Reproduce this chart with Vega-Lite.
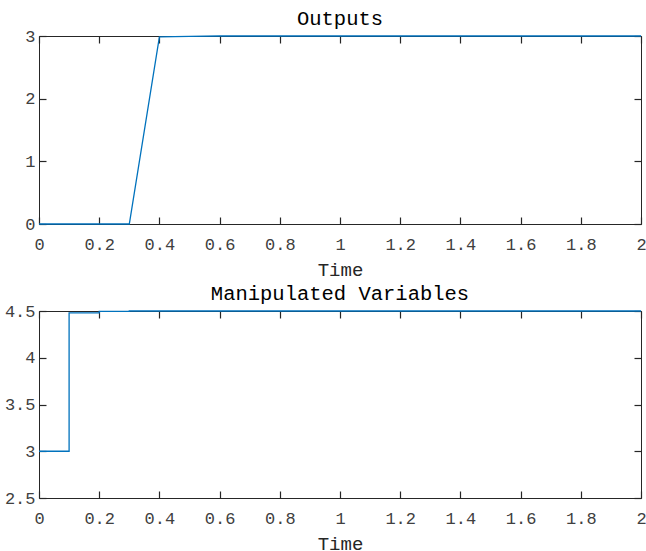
{
  "$schema": "https://vega.github.io/schema/vega-lite/v6.json",
  "padding": {"left": 4, "top": 8, "right": 5, "bottom": 5},
  "background": "white",
  "spacing": 4,
  "config": {
    "font": "Liberation Mono",
    "view": {"stroke": null},
    "axis": {
      "grid": false,
      "domainColor": "#262626",
      "tickColor": "#262626",
      "labelColor": "#404040",
      "titleColor": "#262626",
      "domainWidth": 1,
      "tickWidth": 1.2,
      "tickSize": -7,
      "labelFontSize": 17,
      "titleFontSize": 19,
      "titleFontWeight": "normal",
      "labelFlush": false,
      "labelOverlap": false
    },
    "title": {"fontSize": 20.5, "fontWeight": "normal", "color": "#000000", "offset": -2}
  },
  "vconcat": [
    {
      "width": 602,
      "height": 188,
      "title": "Outputs",
      "data": {"values": [
        {"t": 0.0, "y": 0}, {"t": 0.1, "y": 0}, {"t": 0.2, "y": 0}, {"t": 0.3, "y": 0},
        {"t": 0.4, "y": 2.985}, {"t": 0.5, "y": 2.995}, {"t": 0.6, "y": 3}, {"t": 0.7, "y": 3},
        {"t": 0.8, "y": 3}, {"t": 0.9, "y": 3}, {"t": 1.0, "y": 3}, {"t": 1.1, "y": 3},
        {"t": 1.2, "y": 3}, {"t": 1.3, "y": 3}, {"t": 1.4, "y": 3}, {"t": 1.5, "y": 3},
        {"t": 1.6, "y": 3}, {"t": 1.7, "y": 3}, {"t": 1.8, "y": 3}, {"t": 1.9, "y": 3},
        {"t": 2.0, "y": 3}
      ]},
      "resolve": {"axis": {"x": "independent", "y": "independent"}},
      "layer": [
        {
          "mark": {"type": "line", "opacity": 0},
          "encoding": {
            "x": {"field": "t", "type": "quantitative", "scale": {"domain": [0, 2]},
                  "axis": {"orient": "top", "labels": false, "title": null, "values": [0,0.2,0.4,0.6,0.8,1,1.2,1.4,1.6,1.8,2]}},
            "y": {"field": "y", "type": "quantitative", "scale": {"domain": [0, 3]},
                  "axis": {"orient": "right", "labels": false, "title": null, "values": [0,1,2,3]}}
          }
        },
        {
          "mark": {"type": "line", "color": "#0072BD", "strokeWidth": 1.3},
          "encoding": {
            "x": {"field": "t", "type": "quantitative", "scale": {"domain": [0, 2]},
                  "axis": {"orient": "bottom", "title": "Time", "titleFontWeight": "normal", "format": "~g", "labelPadding": 19, "titlePadding": 8, "values": [0,0.2,0.4,0.6,0.8,1,1.2,1.4,1.6,1.8,2]}},
            "y": {"field": "y", "type": "quantitative", "scale": {"domain": [0, 3]},
                  "axis": {"orient": "left", "title": null, "format": "~g", "labelPadding": 11, "values": [0,1,2,3]}}
          }
        }
      ]
    },
    {
      "width": 602,
      "height": 187,
      "title": "Manipulated Variables",
      "data": {"values": [
        {"t": 0.0, "u": 3}, {"t": 0.1, "u": 4.48}, {"t": 0.2, "u": 4.495}, {"t": 0.3, "u": 4.5},
        {"t": 0.4, "u": 4.5}, {"t": 0.5, "u": 4.5}, {"t": 0.6, "u": 4.5}, {"t": 0.7, "u": 4.5},
        {"t": 0.8, "u": 4.5}, {"t": 0.9, "u": 4.5}, {"t": 1.0, "u": 4.5}, {"t": 1.1, "u": 4.5},
        {"t": 1.2, "u": 4.5}, {"t": 1.3, "u": 4.5}, {"t": 1.4, "u": 4.5}, {"t": 1.5, "u": 4.5},
        {"t": 1.6, "u": 4.5}, {"t": 1.7, "u": 4.5}, {"t": 1.8, "u": 4.5}, {"t": 1.9, "u": 4.5},
        {"t": 2.0, "u": 4.5}
      ]},
      "resolve": {"axis": {"x": "independent", "y": "independent"}},
      "layer": [
        {
          "mark": {"type": "line", "opacity": 0},
          "encoding": {
            "x": {"field": "t", "type": "quantitative", "scale": {"domain": [0, 2]},
                  "axis": {"orient": "top", "labels": false, "title": null, "values": [0,0.2,0.4,0.6,0.8,1,1.2,1.4,1.6,1.8,2]}},
            "y": {"field": "u", "type": "quantitative", "scale": {"domain": [2.5, 4.5]},
                  "axis": {"orient": "right", "labels": false, "title": null, "values": [2.5,3,3.5,4,4.5]}}
          }
        },
        {
          "mark": {"type": "line", "color": "#0072BD", "strokeWidth": 1.3, "interpolate": "step-after"},
          "encoding": {
            "x": {"field": "t", "type": "quantitative", "scale": {"domain": [0, 2]},
                  "axis": {"orient": "bottom", "title": "Time", "titleFontWeight": "normal", "format": "~g", "labelPadding": 19, "titlePadding": 8, "values": [0,0.2,0.4,0.6,0.8,1,1.2,1.4,1.6,1.8,2]}},
            "y": {"field": "u", "type": "quantitative", "scale": {"domain": [2.5, 4.5]},
                  "axis": {"orient": "left", "title": null, "format": "~g", "labelPadding": 11, "values": [2.5,3,3.5,4,4.5]}}
          }
        }
      ]
    }
  ]
}
